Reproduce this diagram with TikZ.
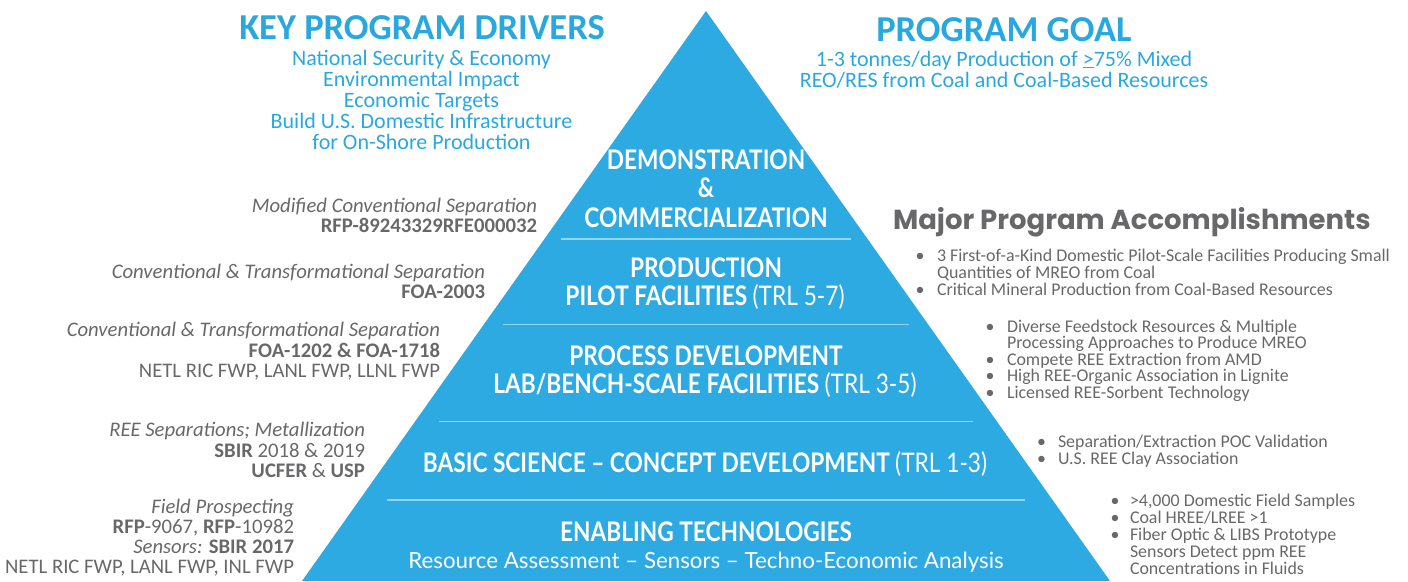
\documentclass[tikz,border=0pt]{standalone}
\usepackage{fontspec}
\setmainfont{Carlito}
\newfontfamily\pyrfont[FakeStretch=0.84]{Lato}
\newfontfamily\pyrlfont{Lato}
\newfontfamily\popfont{Poppins}
\definecolor{pblue}{RGB}{46,170,226}
\definecolor{tblue}{RGB}{41,168,224}
\definecolor{tgray}{RGB}{104,104,106}
\definecolor{divc}{RGB}{150,212,240}
\begin{document}
\begin{tikzpicture}[x=1pt,y=-1pt,
  every node/.style={inner sep=0pt, outer sep=0pt},
  ttl/.style={font=\bfseries\fontsize{36.5}{37}\selectfont, text=tblue, anchor=base},
  drv/.style={font=\fontsize{22}{22}\selectfont, text=tblue, anchor=base},
  lgray/.style={font=\fontsize{20.7}{20}\selectfont, text=tgray, anchor=base east},
  bul/.style={font=\fontsize{17.9}{17}\selectfont, text=tgray, anchor=base west},
  bdot/.style={font=\fontsize{17.9}{17}\selectfont, text=tgray, anchor=base},
  pyb/.style={font=\pyrfont\bfseries\fontsize{27}{27}\selectfont, text=white, anchor=base},
  pyl/.style={font=\pyrlfont\fontsize{22.3}{22}\selectfont, text=white, anchor=base},
  divline/.style={draw=divc, line width=1.6pt},
]
\useasboundingbox (0,0) rectangle (1408,581);
% pyramid
\coordinate (apex) at (706,11);
\coordinate (bl) at (302,581);
\coordinate (br) at (1110,581);
\fill[pblue] (apex) -- (bl) -- (br) -- cycle;
\draw[divline] (561,239) -- (851,239);
\draw[divline] (503,324.5) -- (909,324.5);
\draw[divline] (439,421.5) -- (973,421.5);
\draw[divline] (387,500) -- (1025,500);
% pyramid text
\node[pyb] (demo) at (706,169.5) {DEMONSTRATION};
\node[pyb] (amp) at (706,197) {\&};
\node[pyb] (comm) at (706,227) {COMMERCIALIZATION};
\node[pyb] (prod) at (706,277) {PRODUCTION};
\node[pyb] (pilot) at (705,305) {PILOT FACILITIES {\mdseries (TRL 5-7)}};
\node[pyb] (proc) at (706,365) {PROCESS DEVELOPMENT};
\node[pyb] (lab) at (705,393.5) {LAB/BENCH-SCALE FACILITIES {\mdseries (TRL 3-5)}};
\node[pyb] (basic) at (705,472) {BASIC SCIENCE – CONCEPT DEVELOPMENT {\mdseries (TRL 1-3)}};
\node[pyb] (enab) at (706,541.5) {ENABLING TECHNOLOGIES};
\node[pyl] (res) at (706,568) {Resource Assessment – Sensors – Techno-Economic Analysis};
% key drivers
\node[ttl] (kpd) at (422,39) {KEY PROGRAM DRIVERS};
\node[drv] (d1) at (421.5,65) {National Security \& Economy};
\node[drv] (d2) at (421.5,86) {Environmental Impact};
\node[drv] (d3) at (421.5,107) {Economic Targets};
\node[drv] (d4) at (421.5,128) {Build U.S. Domestic Infrastructure};
\node[drv] (d5) at (421.5,149) {for On-Shore Production};
% goal
\node[ttl] (pg) at (1004,41) {PROGRAM GOAL};
\node[drv] (g1) at (1004,66) {1-3 tonnes/day Production of \underline{>}75\% Mixed};
\node[drv] (g2) at (1004,87) {REO/RES from Coal and Coal-Based Resources};
% left gray
\node[lgray] (m1) at (537,212.7) {\itshape Modified Conventional Separation};
\node[lgray] (m2) at (537,232.7) {\bfseries RFP-89243329RFE000032};
\node[lgray] (c1) at (485,278.3) {\itshape Conventional \& Transformational Separation};
\node[lgray] (c2) at (485,298.3) {\bfseries FOA-2003};
\node[lgray] (t1) at (440,336.7) {\itshape Conventional \& Transformational Separation};
\node[lgray] (t2) at (440,357) {\bfseries FOA-1202 \& FOA-1718};
\node[lgray] (t3) at (440,377) {NETL RIC FWP, LANL FWP, LLNL FWP};
\node[lgray] (r1) at (365,436.7) {\itshape REE Separations; Metallization};
\node[lgray] (r2) at (365,457) {\textbf{SBIR} 2018 \& 2019};
\node[lgray] (r3) at (365,477.5) {\textbf{UCFER} \& \textbf{USP}};
\node[lgray] (f1) at (294,513) {\itshape Field Prospecting};
\node[lgray] (f2) at (294,533) {\textbf{RFP}-9067, \textbf{RFP}-10982};
\node[lgray] (f3) at (294,553) {\textit{Sensors:} \textbf{SBIR 2017}};
\node[lgray] (f4) at (294,573) {NETL RIC FWP, LANL FWP, INL FWP};
% accomplishments
\node[font=\popfont\bfseries\fontsize{27.5}{28}\selectfont, text=tgray, anchor=base west] (mpa) at (893,229) {Major Program Accomplishments};
\node[bdot] (ba1) at (920,261.5) {•};
\node[bul] (a1) at (937,261.5) {3 First-of-a-Kind Domestic Pilot-Scale Facilities Producing Small};
\node[bul] (a2) at (937,278.5) {Quantities of MREO from Coal};
\node[bdot] (ba3) at (920,295.5) {•};
\node[bul] (a3) at (937,295.5) {Critical Mineral Production from Coal-Based Resources};
\node[bdot] (bb1) at (990,332) {•};
\node[bul] (b1) at (1007,332) {Diverse Feedstock Resources \& Multiple};
\node[bul] (b2) at (1007,348.5) {Processing Approaches to Produce MREO};
\node[bdot] (bb3) at (990,365) {•};
\node[bul] (b3) at (1007,365) {Compete REE Extraction from AMD};
\node[bdot] (bb4) at (990,381.5) {•};
\node[bul] (b4) at (1007,381.5) {High REE-Organic Association in Lignite};
\node[bdot] (bb5) at (990,398) {•};
\node[bul] (b5) at (1007,398) {Licensed REE-Sorbent Technology};
\node[bdot] (bc1) at (1041.5,447) {•};
\node[bul] (c1r) at (1058,447) {Separation/Extraction POC Validation};
\node[bdot] (bc2) at (1041.5,464) {•};
\node[bul] (c2r) at (1058,464) {U.S. REE Clay Association};
\node[bdot] (bd1) at (1115,506) {•};
\node[bul] (e1) at (1130,506) {>4,000 Domestic Field Samples};
\node[bdot] (bd2) at (1115,523) {•};
\node[bul] (e2) at (1130,523) {Coal HREE/LREE >1};
\node[bdot] (bd3) at (1115,540) {•};
\node[bul] (e3) at (1130,540) {Fiber Optic \& LIBS Prototype};
\node[bul] (e4) at (1130,557) {Sensors Detect ppm REE};
\node[bul] (e5) at (1130,574) {Concentrations in Fluids};
\end{tikzpicture}
\end{document}
